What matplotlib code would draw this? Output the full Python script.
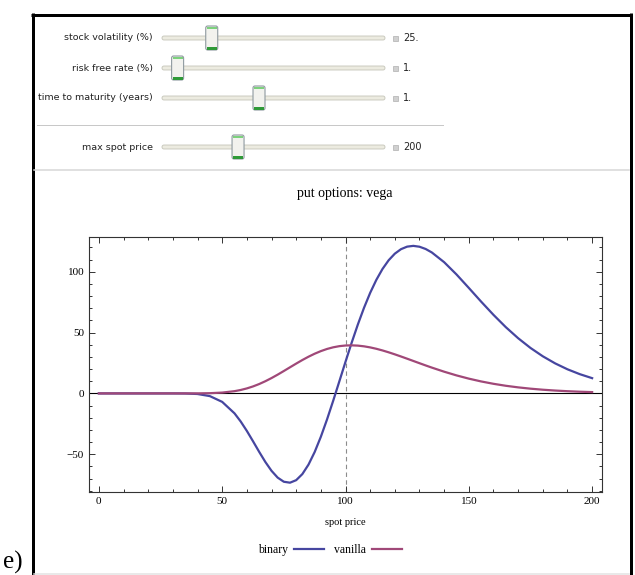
import matplotlib
matplotlib.use("Agg")
import matplotlib.pyplot as plt
from matplotlib.patches import Rectangle, FancyBboxPatch

# slider panel
slider_labels = ["stock volatility (%)", "risk free rate (%)",
                 "time to maturity (years)", "max spot price"]
slider_values = ["25.", "1.", "1.", "200"]
slider_frac = [0.223, 0.07, 0.435, 0.341]

# put option vega vs spot price
spot = [0, 10, 20, 30, 35, 40, 45, 50, 55, 57.5, 60, 62.5, 65, 67.5, 70,
        72.5, 75, 77.5, 80, 82.5, 85, 87.5, 90, 92.5, 95, 97.5, 100, 102.5,
        105, 107.5, 110, 112.5, 115, 117.5, 120, 122.5, 125, 127.5, 130,
        132.5, 135, 140, 145, 150, 155, 160, 165, 170, 175, 180, 185, 190,
        195, 200]
binary = [0, 0, 0, 0, -0.07, -0.49, -2.22, -6.95, -16.39, -23.06, -30.81,
          -39.30, -48.01, -56.32, -63.59, -69.19, -72.58, -73.35, -71.28,
          -66.29, -58.49, -48.15, -35.64, -21.44, -6.09, 9.89, 25.97, 41.67,
          56.56, 70.29, 82.60, 93.28, 102.23, 109.41, 114.81, 118.50, 120.59,
          121.21, 120.51, 118.65, 115.80, 107.80, 97.74, 86.66, 75.39, 64.53,
          54.42, 45.35, 37.36, 30.49, 24.67, 19.81, 15.81, 12.53]
vanilla = [0, 0, 0, 0, 0.00, 0.03, 0.18, 0.67, 1.84, 2.81, 4.10, 5.73, 7.70,
           10.01, 12.60, 15.42, 18.41, 21.46, 24.49, 27.42, 30.15, 32.61,
           34.74, 36.51, 37.87, 38.82, 39.35, 39.49, 39.26, 38.68, 37.80,
           36.66, 35.30, 33.76, 32.09, 30.33, 28.51, 26.66, 24.81, 22.98,
           21.20, 17.84, 14.80, 12.13, 9.83, 7.89, 6.27, 4.96, 3.89, 3.03,
           2.35, 1.81, 1.39, 1.07]
strike = 100

W, H = 635, 575
fig = plt.figure(figsize=(W / 100, H / 100), dpi=100)

# pixel-space layer for the frame and controls
bg = fig.add_axes([0, 0, 1, 1])
bg.set_xlim(0, W)
bg.set_ylim(H, 0)
bg.axis("off")

px = 72 / 100
bg.plot([32.5, 32.5], [13, H], color="black", lw=3 * px, solid_capstyle="butt")
bg.plot([630.5, 630.5], [13, H], color="black", lw=3 * px, solid_capstyle="butt")
bg.plot([31, 632], [14.5, 14.5], color="black", lw=3 * px, solid_capstyle="butt")
bg.plot([34, 629], [573.5, 573.5], color="#e2e2e2", lw=1.5 * px)
bg.plot([37, 443], [124.5, 124.5], color="#c8c8c8", lw=1 * px)
bg.plot([34, 629], [169.5, 169.5], color="#d6d6d6", lw=1.5 * px)

rows_y = [38, 68, 98, 147]
x0, x1 = 162, 385
for label, val, frac, y in zip(slider_labels, slider_values, slider_frac, rows_y):
    bg.text(153, y, label, ha="right", va="center", fontsize=6.8,
            family="DejaVu Sans", color="#222222")
    bg.add_patch(FancyBboxPatch((x0, y - 2), x1 - x0, 4,
                                boxstyle="round,pad=0,rounding_size=2",
                                fc="#ecebe0", ec="#c4c4b8", lw=0.6))
    tx = x0 + frac * (x1 - x0)
    bg.add_patch(FancyBboxPatch((tx - 6, y - 12), 12, 24,
                                boxstyle="round,pad=0,rounding_size=2",
                                fc="#f2f2ee", ec="#8f9aa0", lw=0.8))
    bg.add_patch(Rectangle((tx - 5, y - 11.5), 10, 2, fc="#7dd17d", ec="none"))
    bg.add_patch(Rectangle((tx - 5, y + 9), 10, 2.5, fc="#2f9a38", ec="none"))
    bg.add_patch(Rectangle((393, y - 2.5), 5, 5, fc="#d0d0d0", ec="#b0b0b0", lw=0.5))
    bg.text(403, y, val, ha="left", va="center", fontsize=7,
            family="DejaVu Sans", color="#222222")

bg.text(3, 569, "e)", ha="left", va="baseline", fontsize=18,
        family="Liberation Serif", color="black")

bg.text(345, 193, "put options: vega", ha="center", va="center",
        fontsize=10, family="Liberation Serif")

# main plot
l, r, t, b = 89, 602, 237, 492
ax = fig.add_axes([l / W, (H - b) / H, (r - l) / W, (b - t) / H])
ax.set_facecolor("none")
ax.plot(spot, binary, color="#4646a0", lw=1.6, label="binary", zorder=3)
ax.plot(spot, vanilla, color="#a04878", lw=1.6, label="vanilla", zorder=4)
ax.axhline(0, color="black", lw=0.8, zorder=2)
ax.axvline(strike, color="#8c8c8c", lw=0.8, ls=(0, (4, 3)), zorder=1)

ax.set_xlim(-4, 204)
ax.set_ylim(-81, 128.5)
ax.set_xticks([0, 50, 100, 150, 200])
ax.set_xticks(range(0, 201, 10), minor=True)
ax.set_yticks([-50, 0, 50, 100])
ax.set_yticks(range(-80, 121, 10), minor=True)
ax.tick_params(which="both", direction="in", top=True, right=True,
               width=0.7, colors="#333333", labelcolor="black", labelsize=8)
ax.tick_params(which="major", length=4.5)
ax.tick_params(which="minor", length=2.5)
for lab in ax.get_xticklabels() + ax.get_yticklabels():
    lab.set_family("Liberation Serif")
for s in ax.spines.values():
    s.set_color("#333333")
    s.set_linewidth(0.8)

ax.set_xlabel("spot price", family="Liberation Serif", fontsize=7.5, labelpad=9)

ax.legend(loc="center", bbox_to_anchor=(330 / W, 1 - 550 / H),
          bbox_transform=fig.transFigure, ncol=2, frameon=False,
          markerfirst=False, handlelength=2.6, columnspacing=0.8,
          handletextpad=0.5, prop={"family": "Liberation Serif", "size": 8.5})

fig.savefig("out.png", dpi=100)
